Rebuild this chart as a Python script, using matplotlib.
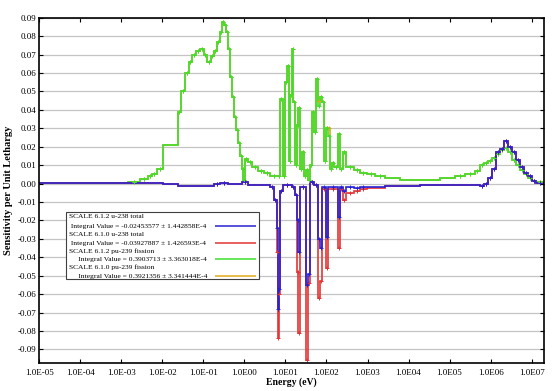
import numpy as np
import matplotlib
matplotlib.use('Agg')
import matplotlib.pyplot as plt
import matplotlib.ticker as mtick
from matplotlib.patches import Rectangle

plt.rcParams['font.family'] = ['Liberation Serif', 'DejaVu Serif']
plt.rcParams['axes.unicode_minus'] = False

# energy group boundaries, log10(E / eV)
log_e_fis = [-5, -4, -3.3, -2.838, -2.546, -2.351, -2.253, -2.131, -1.985, -1.620,
             -1.546, -1.449, -1.351, -1.278, -1.181, -1.083, -0.986, -0.913, -0.815, -0.742,
             -0.669, -0.596, -0.547, -0.498, -0.450, -0.401, -0.352, -0.303, -0.255, -0.206,
             -0.157, -0.108, -0.060, -0.023, 0.013, 0.087, 0.184, 0.330, 0.476, 0.623,
             0.818, 0.866, 0.940, 0.988, 1.037, 1.086, 1.122, 1.159, 1.195, 1.232,
             1.281, 1.317, 1.354, 1.403, 1.451, 1.500, 1.549, 1.598, 1.646, 1.695,
             1.744, 1.793, 1.841, 1.890, 1.939, 1.988, 2.036, 2.085, 2.134, 2.183,
             2.280, 2.329, 2.402, 2.475, 2.663, 2.816, 2.987, 3.182, 3.426, 3.791,
             4.279, 4.766, 5.132, 5.375, 5.619, 5.741, 5.838, 5.936, 6.033, 6.131,
             6.228, 6.326, 6.423, 6.521, 6.618, 6.716, 6.813, 6.911, 7.008, 7.106, 7.301]

# SCALE 6.1.2 pu-239 fission
pu_fis_612 = [0.0001, 0.0002, 0.0004, 0.001, 0.0027, 0.004, 0.005, 0.008, 0.021, 0.039,
              0.050, 0.060, 0.066, 0.070, 0.072, 0.073, 0.070, 0.066, 0.069, 0.072,
              0.077, 0.082, 0.0875, 0.086, 0.082, 0.073, 0.058, 0.047, 0.036, 0.029,
              0.022, 0.015, 0.008, 0.002, 0.0135, 0.0115, 0.009, 0.007, 0.0055, 0.0043,
              0.004, 0.046, 0.004, 0.055, 0.064, 0.012, 0.048, 0.073, 0.044, 0.010,
              0.032, 0.041, 0.008, 0.017, 0.004, 0.0075, 0.002, 0.010, 0.039, 0.028,
              0.057, 0.042, 0.047, 0.044, 0.012, 0.030, 0.026, 0.008, 0.011, 0.009,
              0.027, 0.008, 0.017, 0.009, 0.0075, 0.006, 0.005, 0.004, 0.003, 0.002,
              0.002, 0.003, 0.004, 0.005, 0.007, 0.010, 0.011, 0.012, 0.014, 0.016,
              0.018, 0.0195, 0.017, 0.013, 0.010, 0.0075, 0.005, 0.003, 0.0015, 0.0008]

# SCALE 6.1.0 pu-239 fission
pu_fis_610 = [0.0001, 0.0002, 0.0004, 0.001, 0.0027, 0.004, 0.005, 0.008, 0.021, 0.039,
              0.050, 0.060, 0.066, 0.070, 0.072, 0.073, 0.070, 0.066, 0.069, 0.072,
              0.077, 0.082, 0.0875, 0.086, 0.082, 0.073, 0.058, 0.047, 0.036, 0.029,
              0.022, 0.015, 0.008, 0.002, 0.0135, 0.0115, 0.009, 0.007, 0.0055, 0.0043,
              0.004, 0.046, 0.004, 0.055, 0.064, 0.012, 0.048, 0.073, 0.044, 0.010,
              0.032, 0.041, 0.008, 0.017, 0.004, 0.0075, 0.002, 0.010, 0.039, 0.028,
              0.057, 0.045, 0.047, 0.044, 0.012, 0.030, 0.030, 0.008, 0.011, 0.009,
              0.027, 0.008, 0.017, 0.009, 0.0075, 0.006, 0.005, 0.004, 0.003, 0.002,
              0.002, 0.003, 0.004, 0.005, 0.007, 0.010, 0.011, 0.012, 0.014, 0.016,
              0.018, 0.0195, 0.017, 0.013, 0.010, 0.0075, 0.005, 0.003, 0.0015, 0.0008]

log_e_tot = [-5, -1.985, -1.620, -0.742, -0.596, -0.401, -0.060, 0.087, 0.623, 0.720,
             0.793, 0.818, 0.842, 0.866, 0.940, 1.159, 1.232, 1.281, 1.317, 1.354,
             1.500, 1.549, 1.598, 1.695, 1.793, 1.841, 1.890, 1.988, 2.036, 2.280,
             2.329, 2.402, 2.475, 2.663, 2.816, 2.987, 3.426, 4.279, 5.132, 5.741,
             5.838, 5.936, 6.033, 6.131, 6.228, 6.326, 6.423, 6.521, 6.618, 6.716,
             6.813, 6.911, 7.008, 7.106, 7.301]

# SCALE 6.1.2 u-238 total
u_tot_612 = [0.0003, 0.0, -0.0015, -0.0005, 0.0004, -0.0002, 0.0008, -0.0008, -0.002, -0.009,
             -0.024, -0.068, -0.057, -0.004, -0.001, -0.002, -0.006, -0.020, -0.037, -0.0017,
             -0.055, -0.049, 0.001, -0.001, -0.030, -0.035, -0.002, -0.029, -0.002, -0.018,
             -0.002, -0.004, -0.002, -0.0025, -0.002, -0.0018, -0.0012, -0.0008, -0.0008, -0.0012,
             0.0, 0.003, 0.008, 0.017, 0.0185, 0.023, 0.020, 0.017, 0.013, 0.009,
             0.006, 0.004, 0.0015, 0.0005]

# SCALE 6.1.0 u-238 total
u_tot_610 = [0.0003, 0.0, -0.0015, -0.0005, 0.0004, -0.0002, 0.0008, -0.0008, -0.002, -0.009,
             -0.037, -0.084, -0.060, -0.004, -0.001, -0.002, -0.006, -0.048, -0.081, -0.002,
             -0.096, -0.054, 0.001, -0.001, -0.062, -0.053, -0.003, -0.046, -0.003, -0.035,
             -0.003, -0.009, -0.005, -0.004, -0.003, -0.0022, -0.0015, -0.0008, -0.0008, -0.0012,
             0.0, 0.003, 0.008, 0.017, 0.0185, 0.023, 0.020, 0.017, 0.013, 0.009,
             0.006, 0.004, 0.0015, 0.0005]

labels = ['SCALE 6.1.2 u-238 total',
          ' Integral Value = -0.02453577 \u00b1 1.442858E-4',
          'SCALE 6.1.0 u-238 total',
          ' Integral Value = -0.03927887 \u00b1 1.426593E-4',
          'SCALE 6.1.2 pu-239 fission',
          '     Integral Value = 0.3903713 \u00b1 3.363018E-4',
          'SCALE 6.1.0 pu-239 fission',
          '     Integral Value = 0.3921356 \u00b1 3.341444E-4']

xtick_labels = ['1.0E-05', '1.0E-04', '1.0E-03', '1.0E-02', '1.0E-01', '1.0E00',
                '1.0E01', '1.0E02', '1.0E03', '1.0E04', '1.0E05', '1.0E06', '1.0E07']

c_blue = '#2a22d2'
c_red = '#e43434'
c_green = '#3ee02e'
c_orange = '#e2a81c'


def bin_mids(log_edges, vals):
    # cap markers only on the narrower groups, like the original plot
    lo = np.array(log_edges[:-1])
    hi = np.array(log_edges[1:])
    keep = (hi - lo) < 0.3
    return 10 ** ((lo + hi) / 2)[keep], np.array(vals)[keep]


fig = plt.figure(figsize=(5.54, 3.91), dpi=100)
ax = fig.add_axes([0.0709, 0.0716, 0.911, 0.883])

series = [(pu_fis_610, log_e_fis, c_orange),
          (pu_fis_612, log_e_fis, c_green),
          (u_tot_610, log_e_tot, c_red),
          (u_tot_612, log_e_tot, c_blue)]
for vals, log_edges, col in series:
    ax.stairs(vals, 10 ** np.array(log_edges), color=col, lw=1.2, baseline=None)
    mx, my = bin_mids(log_edges, vals)
    ax.plot(mx, my, ls='none', marker='+', ms=3, mew=0.7, color=col)

ax.set_xscale('log')
ax.set_xlim(1e-5, 2e7)
ax.set_ylim(-0.0974, 0.09)

ax.xaxis.set_major_locator(mtick.FixedLocator([10.0 ** k for k in range(-5, 8)]))
ax.xaxis.set_major_formatter(mtick.FixedFormatter(xtick_labels))
ax.xaxis.set_minor_locator(mtick.NullLocator())
ax.yaxis.set_major_locator(mtick.MultipleLocator(0.01))
ax.yaxis.set_major_formatter(mtick.FormatStrFormatter('%.2f'))
ax.tick_params(direction='in', length=3, width=0.8, top=True, right=True,
               labelsize=6.5, pad=2)
ax.tick_params(axis='x', pad=4)

ax.grid(axis='y', color='#c4c4c4', lw=0.9)
ax.set_axisbelow(True)
for s in ax.spines.values():
    s.set_linewidth(1.2)

ax.set_xlabel('Energy (eV)', fontsize=7, fontweight='bold')
ax.set_ylabel('Sensitivity per Unit Lethargy', fontsize=7.5, fontweight='bold')
ax.xaxis.set_label_coords(0.5, -0.043)
ax.yaxis.set_label_coords(-0.052, 0.5)

# legend box drawn by hand: text on the left, line samples on the right
ax.add_patch(Rectangle((0.0529, 0.2433), 0.3824, 0.194, transform=ax.transAxes,
                       facecolor='white', edgecolor='#404040', lw=0.8, zorder=5))
row_y = [0.4257, 0.3968, 0.3736, 0.3475, 0.3244, 0.3012, 0.2780, 0.2520]
for txt, yy in zip(labels, row_y):
    ax.text(0.0588, yy, txt, transform=ax.transAxes, fontsize=5.4, va='center',
            ha='left', zorder=6)
for col, yy in zip([c_blue, c_red, c_green, c_orange], row_y[1::2]):
    ax.plot([0.348, 0.4294], [yy, yy], transform=ax.transAxes, color=col, lw=1.1,
            zorder=6, solid_capstyle='butt')

fig.savefig('out.png', dpi=100)
